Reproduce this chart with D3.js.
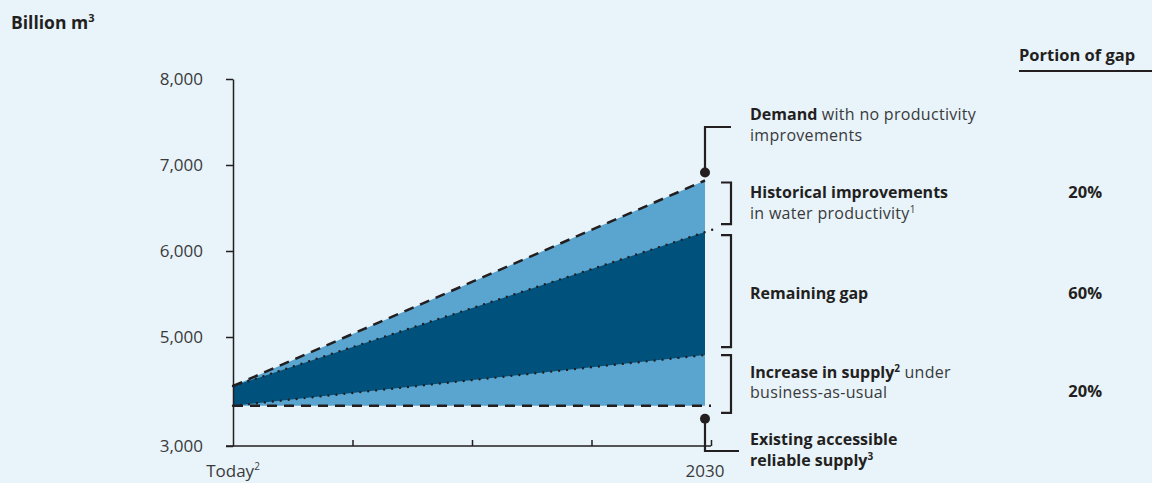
<!DOCTYPE html>
<html><head><meta charset="utf-8">
<script src="https://cdn.jsdelivr.net/npm/d3@7"></script>
<style>
html,body{margin:0;padding:0;background:#e8f3fa;}
svg{display:block;font-family:"Open Sans",sans-serif;}
</style></head>
<body><svg id="c" width="1152" height="483"></svg>
<script>
const periods = ["Today", "2030"];
const demandNoImprovement = [4430, 6820];
const demandHistorical = [4430, 6220];
const supplyBAU = [4200, 4790];
const existingSupply = [4200, 4200];
const yTicks = [3000, 5000, 6000, 7000, 8000];
const portions = ["20%", "60%", "20%"];

const ink = "#231f20", light = "#5aa5cf", dark = "#00527d", grey = "#3a3a3a";
const FS = 16;
const svg = d3.select("#c");
svg.append("rect").attr("width",1152).attr("height",483).attr("fill","#e8f3fa");

const x = d3.scalePoint().domain(periods).range([233, 705]);
const xAxisScale = d3.scaleLinear().domain([0, 4]).range([233, 711]);
const y = d3.scaleLinear().domain([3000, 4000, 8000]).range([446, 423, 79]);

const rows = periods.map((p,i)=>({p, dn:demandNoImprovement[i], dh:demandHistorical[i], s:supplyBAU[i], e:existingSupply[i]}));

// areas
svg.append("path").datum(rows).attr("fill", light)
  .attr("d", d3.area().x(d=>x(d.p)).y0(d=>y(d.e)).y1(d=>y(d.dn)));
svg.append("path").datum(rows).attr("fill", dark)
  .attr("d", d3.area().x(d=>x(d.p)).y0(d=>y(d.s)).y1(d=>y(d.dh)));

// axes
const ya = svg.append("g").attr("transform","translate(233,0)")
  .call(d3.axisLeft(y).tickValues(yTicks).tickSize(7).tickSizeOuter(0).tickPadding(23).tickFormat(d3.format(",")));
ya.select(".domain").attr("stroke", ink).attr("stroke-width",1.5);
ya.selectAll(".tick line").attr("stroke", ink).attr("stroke-width",1.5);
ya.selectAll(".tick text").attr("fill",grey).attr("font-size",17).attr("font-family","'Open Sans',sans-serif");

const xa = svg.append("g").attr("transform","translate(0,446)")
  .call(d3.axisBottom(xAxisScale).tickValues([1,2,3,4]).tickSize(-6).tickSizeOuter(0).tickFormat(""));
xa.select(".domain").attr("stroke", ink).attr("stroke-width",1.5).attr("d","M226,0H711");
xa.selectAll(".tick line").attr("stroke", ink).attr("stroke-width",1.5);

const xl = svg.append("g").attr("font-size",17).attr("fill",grey);
const t1 = xl.append("text").attr("x", x("Today")).attr("y",477).attr("text-anchor","middle");
t1.append("tspan").text("Today");
t1.append("tspan").attr("font-size",10).attr("dy",-7).text("2");
xl.append("text").attr("x", x("2030")).attr("y",477).attr("text-anchor","middle").text("2030");

// lines
const line = (acc)=>d3.line().x(d=>x(d.p)).y(d=>y(acc(d)));
svg.append("path").datum(rows).attr("fill","none").attr("stroke",ink).attr("stroke-width",2.5)
  .attr("stroke-dasharray","10,7").attr("d", line(d=>d.dn));
svg.append("line").attr("x1",x("Today")).attr("x2",711).attr("y1",y(existingSupply[0])).attr("y2",y(existingSupply[1]))
  .attr("stroke",ink).attr("stroke-width",2.5).attr("stroke-dasharray","10,7");
function dotted(vals, ext){
  const x0=x(periods[0]), x1=x(periods[1]), y0=y(vals[0]), y1=y(vals[1]);
  const k=(y1-y0)/(x1-x0);
  svg.append("line").attr("x1",x0).attr("y1",y0).attr("x2",x1+ext).attr("y2",y1+k*ext)
    .attr("stroke",ink).attr("stroke-width",2.4).attr("stroke-linecap","round").attr("stroke-dasharray","0,8");
}
dotted(demandHistorical, 8);
dotted(supplyBAU, 2);

// annotations
const ann = svg.append("g").attr("stroke",ink).attr("stroke-width",2.2).attr("fill","none");
const xe = x("2030");
ann.append("path").attr("d",`M${xe},${y(demandNoImprovement[1])-8}V127H731`);
svg.append("circle").attr("cx",xe).attr("cy",y(demandNoImprovement[1])-8).attr("r",5).attr("fill",ink);
function bracket(top, bot){ ann.append("path").attr("d",`M721,${top}H731V${bot}H721`); }
bracket(y(demandNoImprovement[1])+2, y(demandHistorical[1])-8);
bracket(y(demandHistorical[1])+3, y(supplyBAU[1])-8);
bracket(y(supplyBAU[1]), y(existingSupply[1])+7);
ann.append("path").attr("d",`M${xe},${y(existingSupply[1])+13}V451H739`);
svg.append("circle").attr("cx",xe).attr("cy",y(existingSupply[1])+13).attr("r",5).attr("fill",ink);

// annotation text
const tx = svg.append("g").attr("font-size",FS).attr("fill",ink);
function label(yy, parts){
  const t = tx.append("text").attr("x",750).attr("y",yy);
  parts.forEach(pt=>{
    const s=t.append("tspan").text(pt.t);
    if(pt.b) s.attr("font-weight",700).attr("fill",ink);
    else s.attr("fill",grey).attr("letter-spacing",0.3);
    if(pt.sup){ s.attr("font-size",10).attr("dy",-6); }
    if(pt.down) s.attr("dy",6);
  });
}
label(120,[{t:"Demand",b:1},{t:" with no productivity"}]);
label(141,[{t:"improvements"}]);
label(198,[{t:"Historical improvements",b:1}]);
label(219,[{t:"in water productivity"},{t:"1",sup:1}]);
label(299,[{t:"Remaining gap",b:1}]);
label(378,[{t:"Increase in supply",b:1},{t:"2",sup:1,b:1},{t:" under",down:1}]);
label(398,[{t:"business-as-usual"}]);
label(445,[{t:"Existing accessible",b:1}]);
label(466,[{t:"reliable supply",b:1},{t:"3",sup:1,b:1}]);

// portion column
const pc = svg.append("g").attr("fill",ink).attr("font-weight",700);
pc.append("text").attr("x",1019).attr("y",61).attr("font-size",16.5).text("Portion of gap");
svg.append("line").attr("x1",1019).attr("x2",1152).attr("y1",71).attr("y2",71).attr("stroke",ink).attr("stroke-width",2.2);
[198,299,397].forEach((yy,i)=>pc.append("text").attr("x",1102).attr("y",yy).attr("text-anchor","end").attr("font-size",16.5).text(portions[i]));

// unit title
const ut = svg.append("text").attr("x",11).attr("y",29).attr("font-size",17.5).attr("font-weight",700).attr("fill",ink);
ut.append("tspan").text("Billion m");
ut.append("tspan").attr("font-size",11).attr("dy",-7).text("3");
</script></body></html>
